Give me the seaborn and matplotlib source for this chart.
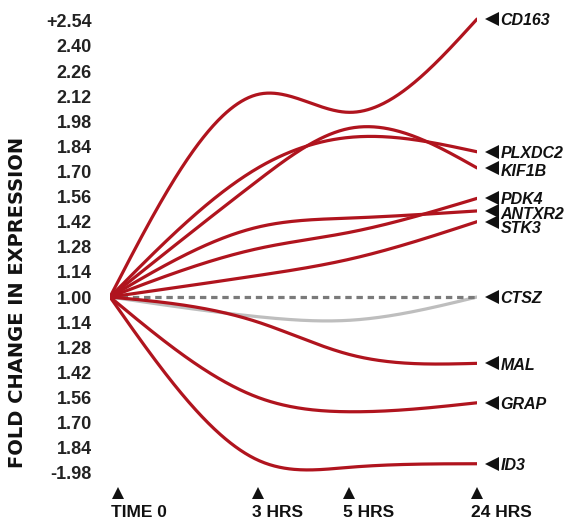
import numpy as np
import pandas as pd
import seaborn as sns
from matplotlib import pyplot as plt
from matplotlib import transforms as mtrans

# time points (x axis is not linear in hours, slots)
time_labels = ["TIME 0", "3 HRS", "5 HRS", "24 HRS"]
TIME_POS = [0.0, 1.0, 1.615, 2.48]

# signed fold change (negative = down-regulated)
genes = ["CD163", "PLXDC2", "KIF1B", "PDK4", "ANTXR2", "STK3", "CTSZ", "MAL", "GRAP", "ID3"]
cd163 = [1.00, 2.13, 2.03, 2.55]
plxdc2 = [1.00, 1.72, 1.89, 1.81]
kif1b = [1.00, 1.65, 1.94, 1.72]
pdk4 = [1.00, 1.27, 1.36, 1.55]
antxr2 = [1.00, 1.39, 1.44, 1.48]
stk3 = [1.00, 1.12, 1.21, 1.42]
ctsz = [1.00, -1.11, -1.13, 1.00]
mal = [1.00, -1.14, -1.32, -1.37]
grap = [1.00, -1.56, -1.64, -1.59]
id3 = [1.00, -1.91, -1.95, -1.93]
BASELINE = 1.00

ytick_labels = ["-1.98", "1.84", "1.70", "1.56", "1.42", "1.28", "1.14", "1.00",
                "1.14", "1.28", "1.42", "1.56", "1.70", "1.84", "1.98", "2.12",
                "2.26", "2.40", "+2.54"]

RED = "#B0141E"
GRAY = "#BEBEBE"
DASH = "#7A7A7A"
INK = "#111111"
# label nudges in points so the gene names don't collide
LABEL_NUDGE = {"PDK4": 0.5, "ANTXR2": -1.5, "STK3": -4.0, "KIF1B": -1.5}


def to_pos(f):
    # down-regulation is drawn mirrored below 1.00
    f = np.asarray(f, dtype=float)
    return np.where(f >= 0, f, 2.0 + f)


def natural_spline(x, y, n=300):
    x = np.asarray(x, dtype=float)
    y = np.asarray(y, dtype=float)
    k = len(x)
    h = np.diff(x)
    A = np.zeros((k, k))
    b = np.zeros(k)
    A[0, 0] = 1
    A[-1, -1] = 1
    for i in range(1, k - 1):
        A[i, i - 1] = h[i - 1]
        A[i, i] = 2 * (h[i - 1] + h[i])
        A[i, i + 1] = h[i]
        b[i] = 6 * ((y[i + 1] - y[i]) / h[i] - (y[i] - y[i - 1]) / h[i - 1])
    M = np.linalg.solve(A, b)
    xs = np.linspace(x[0], x[-1], n)
    i = np.clip(np.searchsorted(x, xs) - 1, 0, k - 2)
    hi = h[i]
    a = x[i + 1] - xs
    c = xs - x[i]
    ys = (M[i] * a ** 3 / (6 * hi) + M[i + 1] * c ** 3 / (6 * hi)
          + (y[i] / hi - M[i] * hi / 6) * a + (y[i + 1] / hi - M[i + 1] * hi / 6) * c)
    return xs, ys


def main():
    sns.set_theme(style="white")
    plt.rcParams["font.family"] = ["Liberation Sans", "DejaVu Sans"]

    series = [cd163, plxdc2, kif1b, pdk4, antxr2, stk3, ctsz, mal, grap, id3]
    frames = []
    for g, vals in zip(genes, series):
        xs, ys = natural_spline(TIME_POS, to_pos(vals))
        frames.append(pd.DataFrame({"gene": g, "t": xs, "pos": ys}))
    df = pd.concat(frames, ignore_index=True)

    fig = plt.figure(figsize=(5.66, 5.2), dpi=100)
    ax = fig.add_axes([110 / 566, 40 / 520, 367 / 566, 465 / 520])

    # grey CTSZ under the dashed baseline, reds on top
    sns.lineplot(data=df[df.gene == "CTSZ"], x="t", y="pos", color=GRAY,
                 linewidth=2.3, estimator=None, sort=False, ax=ax, zorder=1)
    ax.axhline(BASELINE, color=DASH, linewidth=2.3, dashes=(2.0, 1.5), zorder=2)
    reds = df[df.gene != "CTSZ"]
    sns.lineplot(data=reds, x="t", y="pos", hue="gene", units="gene",
                 palette={g: RED for g in genes}, linewidth=2.3,
                 estimator=None, sort=False, legend=False, ax=ax, zorder=3)

    ax.set_xlim(TIME_POS[0], TIME_POS[-1])
    ax.set_ylim(1 - 183 / 179.3, 1 + 282 / 179.3)
    yt = [1 + 0.14 * k for k in range(-7, 12)]
    ax.set_yticks(yt)
    ax.set_yticklabels(ytick_labels, fontsize=13, fontweight="bold", color="#222222")
    ax.tick_params(axis="y", length=0, pad=13)
    ax.set_xticks([])
    ax.set_xlabel("")
    ax.set_ylabel("")
    for s in ax.spines.values():
        s.set_visible(False)

    # x "ticks": small triangles with labels
    trans = ax.get_xaxis_transform()
    for xp, lab in zip(TIME_POS, time_labels):
        first = xp == TIME_POS[0]
        tri_off = 6 if first else 0
        txt_off = 1 if first else -4.5
        tri_tr = trans + mtrans.ScaledTranslation(tri_off / 72, 0, fig.dpi_scale_trans)
        ax.plot([xp], [-0.028], marker="^", color=INK, markersize=8,
                markeredgewidth=0, transform=tri_tr, clip_on=False)
        ax.annotate(lab, xy=(xp, -0.03), xycoords=trans, xytext=(txt_off, -8),
                    textcoords="offset points", ha="left", va="top",
                    fontsize=12.5, fontweight="bold", color=INK)

    # right-hand gene labels
    tri_right = ax.transData + mtrans.ScaledTranslation(11 / 72, 0, fig.dpi_scale_trans)
    for g, vals in zip(genes, series):
        yp = float(to_pos(vals[-1]))
        ax.plot([TIME_POS[-1]], [yp], marker="<", color=INK, markersize=9.5,
                transform=tri_right, clip_on=False, markeredgewidth=0)
        ax.annotate(g, xy=(TIME_POS[-1], yp), xytext=(17, LABEL_NUDGE.get(g, 0.0) - 1.2),
                    textcoords="offset points", ha="left", va="center",
                    fontsize=11.5, fontweight="bold", fontstyle="italic", color=INK)

    fig.text(18 / 566, 1 - 302 / 520, "FOLD CHANGE IN EXPRESSION", rotation=90,
             ha="center", va="center", fontsize=14, fontweight="bold", color=INK,
             family=["DejaVu Sans"])

    plt.savefig("out.png", dpi=100)


if __name__ == "__main__":
    main()
